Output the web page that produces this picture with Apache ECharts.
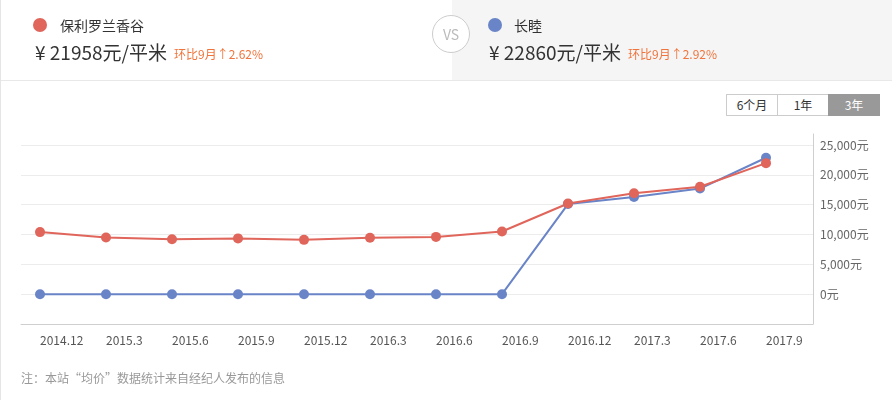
<!DOCTYPE html>
<html>
<head>
<meta charset="utf-8">
<script src="https://cdn.jsdelivr.net/npm/echarts@6/dist/echarts.min.js"></script>
<style>
  html, body { margin: 0; padding: 0; background: #fff; }
  body { width: 892px; height: 400px; position: relative; overflow: hidden;
         font-family: "Microsoft YaHei", "Noto Sans CJK SC", sans-serif; }
  #frame { position: absolute; left: 0; top: 0; width: 891px; height: 400px; border-left: 1px solid #e5e5e5; }
  #head { position: absolute; left: 1px; top: 0; width: 891px; height: 80px; border-bottom: 1px solid #e8e8e8; }
  #head .right { position: absolute; left: 451px; top: 0; width: 440px; height: 80px; background: #f5f5f5; }
  .dot { position: absolute; top: 18px; width: 14px; height: 14px; border-radius: 7px; }
  .name { position: absolute; top: 15px; font-size: 14px; color: #333; }
  .price { position: absolute; top: 38px; font-size: 19px; color: #333; white-space: nowrap; }
  .chg { position: absolute; top: 45px; font-size: 12px; color: #f0743c; white-space: nowrap; }
  #vs { position: absolute; left: 432px; top: 15px; width: 36px; height: 36px; border: 1px solid #ccc;
        border-radius: 19px; background: #fff; color: #bbb; font-size: 14px; line-height: 36px; text-align: center; }
  #btns { position: absolute; left: 727px; top: 94px; height: 22px; display: flex; }
  #btns span { display: block; width: 50px; height: 20px; line-height: 20px; border: 1px solid #ccc;
               font-size: 12px; color: #333; text-align: center; margin-left: -1px; background: #fff; }
  #btns span.on { background: #999; border-color: #999; color: #fff; }
  #note { position: absolute; left: 21px; top: 369px; font-size: 12px; color: #999; }
  #chart { position: absolute; left: 0; top: 0; width: 892px; height: 400px; }
</style>
</head>
<body>
<div id="frame"></div>
<div id="head">
  <div class="right"></div>
</div>
<div id="chart"></div>
<div class="dot" style="left:33px;background:#e0655b"></div>
<div class="name" style="left:60px">保利罗兰香谷</div>
<div class="price" style="left:35px">¥ 21958元/平米</div>
<div class="chg" style="left:174px">环比9月↑2.62%</div>
<div id="vs">VS</div>
<div class="dot" style="left:488px;background:#6a84c8"></div>
<div class="name" style="left:514px">长睦</div>
<div class="price" style="left:489px">¥ 22860元/平米</div>
<div class="chg" style="left:628px">环比9月↑2.92%</div>
<div id="btns"><span>6个月</span><span>1年</span><span class="on">3年</span></div>
<div id="note">注：本站“均价”数据统计来自经纪人发布的信息</div>
<script>
  // 时间轴（季度）
  const months = ['2014.12', '2015.3', '2015.6', '2015.9', '2015.12', '2016.3',
                  '2016.6', '2016.9', '2016.12', '2017.3', '2017.6', '2017.9'];
  // 保利罗兰香谷 均价
  const poliPrice = [10400, 9500, 9200, 9350, 9100, 9450, 9600, 10500, 15200, 16900, 18000, 21958];
  // 长睦 均价
  const changmuPrice = [0, 0, 0, 0, 0, 0, 0, 0, 15100, 16300, 17700, 22860];
  const yTicks = { min: -5000, max: 25000, step: 5000 };

  const fmtYuan = (v) => {
    if (v < 0) return '';
    return String(v).replace(/\B(?=(\d{3})+(?!\d))/g, ',') + '元';
  };

  const chart = echarts.init(document.getElementById('chart'));
  const option = {
    animation: false,
    grid: [
      // 背景网格：分割线 + 右侧刻度
      { left: 21, right: 79, top: 145, bottom: 76 },
      // 坐标轴外框
      { left: 21, right: 79, top: 134, bottom: 76 },
      // 数据区
      { left: 40, right: 126, top: 145, bottom: 76 },
    ],
    xAxis: [
      { gridIndex: 0, type: 'value', min: 0, max: 1, show: false },
      {
        gridIndex: 1, type: 'value', min: 0, max: 1,
        axisLine: { show: true, onZero: false, lineStyle: { color: '#cfcfcf' } },
        axisTick: { show: false }, axisLabel: { show: false }, splitLine: { show: false },
      },
      {
        gridIndex: 2, type: 'category', data: months, boundaryGap: false,
        axisLine: { show: false }, axisTick: { show: false },
        axisLabel: { align: 'left', margin: 10, color: '#555', fontSize: 12,
                     fontFamily: 'Microsoft YaHei, Noto Sans CJK SC, sans-serif' },
      },
    ],
    yAxis: [
      {
        gridIndex: 0, type: 'value', position: 'right',
        min: yTicks.min, max: yTicks.max, interval: yTicks.step,
        axisLine: { show: false }, axisTick: { show: false },
        splitLine: { show: true, lineStyle: { color: '#ececec' } },
        axisLabel: { formatter: fmtYuan, margin: 7, color: '#666', fontSize: 12,
                     fontFamily: 'Microsoft YaHei, Noto Sans CJK SC, sans-serif' },
      },
      {
        gridIndex: 1, type: 'value', position: 'right', min: 0, max: 1,
        axisLine: { show: true, onZero: false, lineStyle: { color: '#cfcfcf' } },
        axisTick: { show: false }, axisLabel: { show: false }, splitLine: { show: false },
      },
      {
        gridIndex: 2, type: 'value', min: yTicks.min, max: yTicks.max, interval: yTicks.step, show: false,
        splitLine: { show: false },
      },
    ],
    series: [
      {
        name: '长睦', type: 'line', xAxisIndex: 2, yAxisIndex: 2, data: changmuPrice,
        symbol: 'circle', symbolSize: 10,
        itemStyle: { color: '#6a84c8' }, lineStyle: { color: '#6a84c8', width: 2 },
      },
      {
        name: '保利罗兰香谷', type: 'line', xAxisIndex: 2, yAxisIndex: 2, data: poliPrice,
        symbol: 'circle', symbolSize: 10,
        itemStyle: { color: '#e0655b' }, lineStyle: { color: '#e0655b', width: 2 },
      },
    ],
  };
  chart.setOption(option);
</script>
</body>
</html>
